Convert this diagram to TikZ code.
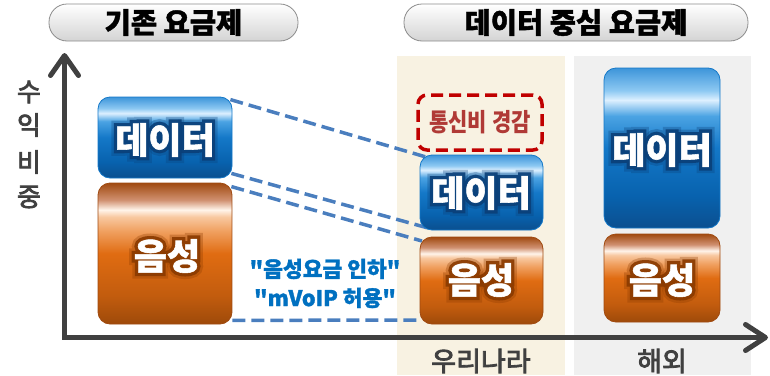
\documentclass[tikz,border=0pt]{standalone}
\usepackage{fontspec}
\usepackage{graphicx}
\setmainfont{Noto Sans CJK KR}
\newfontfamily\krmed{Noto Sans CJK KR}[UprightFeatures={FakeBold=3}]
\newfontfamily\krheavy{Noto Sans CJK KR}[BoldFeatures={FakeBold=1.5}]
\newfontfamily\krglow{Noto Sans CJK KR}[BoldFeatures={FakeBold=20}]
\newfontfamily\krglowo{Noto Sans CJK KR}[BoldFeatures={FakeBold=34}]
\newcommand{\dq}{\XeTeXglyph\XeTeXcharglyph"22\relax}
\usetikzlibrary{arrows.meta,calc}
\definecolor{axisgray}{HTML}{404040}
\definecolor{panelbeige}{HTML}{F8F2E2}
\definecolor{panelgray}{HTML}{F0F0F0}
\definecolor{dashblue}{HTML}{4A7EBE}
\definecolor{notered}{HTML}{C00000}
\definecolor{notetext}{HTML}{B03A36}
\definecolor{bluetext}{HTML}{0070C0}
\definecolor{dA}{HTML}{0B4F8F}
\definecolor{dB}{HTML}{0862AE}
\definecolor{dC}{HTML}{1478C8}
\definecolor{dD}{HTML}{4BA3E3}
\definecolor{dE}{HTML}{DDF0FF}
\definecolor{dF}{HTML}{8CC8F2}
\definecolor{dG}{HTML}{3D95DA}
\definecolor{oA}{HTML}{9E4A0A}
\definecolor{oB}{HTML}{C25C0E}
\definecolor{oC}{HTML}{E06C12}
\definecolor{oD}{HTML}{F0A060}
\definecolor{oE}{HTML}{F8C8A0}
\definecolor{oF}{HTML}{FFF4EA}
\definecolor{oG}{HTML}{D09070}
\definecolor{oH}{HTML}{A04A10}
\definecolor{dglow}{HTML}{0A3F78}
\definecolor{oglow}{HTML}{8A3A00}
\pgfdeclareverticalshading{datashade}{100bp}{color(0bp)=(dA); color(25bp)=(dA); color(35bp)=(dB); color(50bp)=(dC); color(60bp)=(dD); color(65bp)=(dE); color(68bp)=(dF); color(75bp)=(dG); color(100bp)=(dG)}
\pgfdeclareverticalshading{voiceshade}{100bp}{color(0bp)=(oA); color(25bp)=(oA); color(35bp)=(oB); color(50bp)=(oC); color(58bp)=(oD); color(63bp)=(oE); color(65.5bp)=(oF); color(69bp)=(oG); color(75bp)=(oH); color(100bp)=(oH)}
\tikzset{
  pill/.style={draw=black!45, line width=0.8pt, rounded corners=18pt, top color=white, bottom color=black!17, inner sep=0pt, font=\fontsize{28.5}{28.5}\selectfont\krheavy\bfseries},
  databox/.style={draw=dC, line width=0.8pt, rounded corners=12pt, shading=datashade, inner sep=0pt},
  voicebox/.style={draw=oH, line width=0.8pt, rounded corners=12pt, shading=voiceshade, inner sep=0pt},
  boxtxt/.style={font=\fontsize{36}{36}\selectfont\krheavy\bfseries, inner sep=0pt},
  glowtxt/.style={font=\fontsize{36}{36}\selectfont\krglow\bfseries, inner sep=0pt, opacity=0.9},
  glowtxto/.style={font=\fontsize{36}{36}\selectfont\krglowo\bfseries, inner sep=0pt, opacity=0.3},
  axisline/.style={draw=axisgray, line width=5pt, line join=miter},
  link/.style={draw=dashblue, line width=3.5pt, dash pattern=on 13pt off 6pt},
  notebox/.style={draw=notered, line width=3.5pt, dash pattern=on 12pt off 6pt, rounded corners=9pt, inner sep=0pt, text=notetext, font=\fontsize{25}{25}\selectfont\bfseries},
  ylab/.style={text=axisgray, font=\fontsize{26}{26}\selectfont\krmed, inner sep=0pt},
  xlab/.style={text=axisgray, font=\fontsize{27}{27}\selectfont\krmed, inner sep=0pt},
  bluenote/.style={text=bluetext, font=\fontsize{21.5}{21.5}\selectfont\krheavy\bfseries, inner sep=0pt}
}
\newcommand{\glowlabel}[4]{%
  \node[glowtxto,text=#3] at (#2) {#4};
  \node[glowtxt,text=#3] at (#2) {#4};
  \node[boxtxt,text=white] (#1) at (#2) {#4};}
\begin{document}
\begin{tikzpicture}[x=1pt,y=-1pt]
\useasboundingbox (0,0) rectangle (770,375);
% panels
\fill[panelbeige] (397,56) rectangle (565,375);
\fill[panelgray] (574,56) rectangle (751,375);
% titles
\node[pill, minimum width=249pt, minimum height=37pt] (t1) at (173.5,22.5) {기존 요금제};
\node[pill, minimum width=344pt, minimum height=37pt] (t2) at (576,22.5) {데이터 중심 요금제};
% axes
\coordinate (o) at (64.5,337.5);
\coordinate (ytip) at (64.5,53);
\coordinate (xtip) at (768,337.5);
\draw[axisline, {Straight Barb[length=20pt,width=28pt,round]}-{Straight Barb[length=20pt,width=26pt,round]}] (ytip) -- (o) -- (xtip);
% y label
\node[ylab] (y1) at (29,92) {수};
\node[ylab] (y2) at (29,125) {익};
\node[ylab] (y3) at (29,162) {비};
\node[ylab] (y4) at (29,197) {중};
% boxes
\node[databox, minimum width=134pt, minimum height=81pt] (d1) at (165,137.5) {};
\node[voicebox, minimum width=134pt, minimum height=141pt] (v1) at (165,253.5) {};
\node[databox, minimum width=116pt, minimum height=160pt] (d3) at (662,148) {};
\node[voicebox, minimum width=116pt, minimum height=88pt] (v3) at (662,278) {};
% links (drawn before the middle boxes)
\coordinate (m1) at (426,157);
\coordinate (m2) at (428,228);
\coordinate (m3) at (422,241);
\coordinate (m4) at (422,320);
\draw[link] ($(d1.north east)+(-2,3)$) -- (m1);
\draw[link] ($(d1.south east)+(-1,-5)$) -- (m2);
\draw[link] ($(v1.north east)+(-1,4)$) -- (m3);
\draw[link] ($(v1.south east)+(0,-4)$) -- (m4);
\node[databox, minimum width=123pt, minimum height=75pt] (d2) at (481.5,192.5) {};
\node[voicebox, minimum width=123pt, minimum height=87pt] (v2) at (481.5,280.5) {};
% box texts
\glowlabel{d1t}{165,140}{dglow}{데이터}
\glowlabel{v1t}{167,256}{oglow}{음성}
\glowlabel{d2t}{481,193}{dglow}{데이터}
\glowlabel{v2t}{481,280}{oglow}{음성}
\glowlabel{d3t}{662,150}{dglow}{데이터}
\glowlabel{v3t}{662,280}{oglow}{음성}
% note box
\node[notebox, minimum width=124pt, minimum height=55pt] (r) at (480,122.5) {\scalebox{0.84}[1]{통신비 경감}};
% blue notes
\node[bluenote] (n1) at (325,269) {\dq 음성요금 인하\dq};
\node[bluenote] (n2) at (325,298) {\dq mVoIP 허용\dq};
% x labels
\node[xlab] (xl1) at (481,361) {우리나라};
\node[xlab] (xl2) at (662,361) {해외};
\end{tikzpicture}
\end{document}
